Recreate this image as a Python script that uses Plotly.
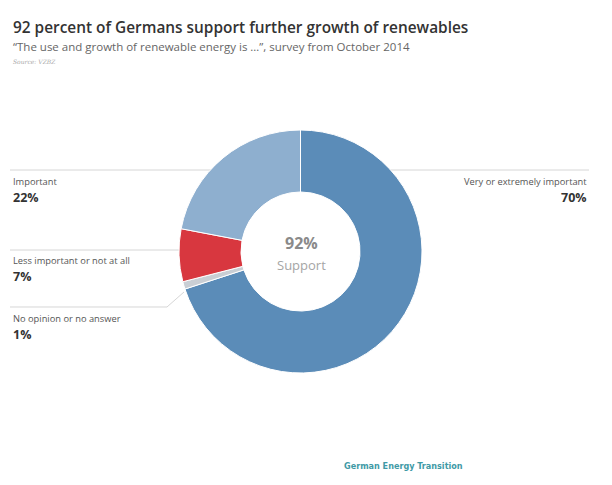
import plotly.graph_objects as go

# survey answers, clockwise from 12 o'clock
labels = ["Very or extremely important", "No opinion or no answer",
          "Less important or not at all", "Important"]
values = [70, 1, 7, 22]
colors = ["#5b8cb8", "#c9ced4", "#d8373f", "#8eafcf"]

# the page body adds an 8px margin, so the figure is a bit smaller and shifted
OX, OY = 8, 8
W, H = 612 - OX, 485 - OY


def px(x):
    return (x - OX) / W


def py(y):
    return 1 - (y - OY) / H


fig = go.Figure()
fig.add_trace(go.Pie(
    labels=labels, values=values, sort=False, direction="clockwise",
    rotation=0, hole=0.49, textinfo="none", showlegend=False,
    marker=dict(colors=colors, line=dict(color="white", width=1)),
    domain=dict(x=[px(178), px(423)], y=[py(373), py(130)]),
))

# thin guide lines behind the donut
line = dict(color="#d6d6d6", width=1)
fig.add_shape(type="line", x0=px(10), x1=px(300), y0=py(170), y1=py(170),
              xref="paper", yref="paper", line=line, layer="below")
fig.add_shape(type="line", x0=px(300), x1=px(589), y0=py(170), y1=py(170),
              xref="paper", yref="paper", line=line, layer="below")
fig.add_shape(type="line", x0=px(10), x1=px(200), y0=py(250), y1=py(250),
              xref="paper", yref="paper", line=line, layer="below")
fig.add_shape(type="path", path="M %f %f L %f %f L %f %f" % (
    px(10), py(307), px(167), py(307), px(184), py(292)),
    xref="paper", yref="paper", line=line, layer="below")

font = "Open Sans"
ann = []


def label(x, y, name, pct, anchor):
    ann.append(dict(x=px(x), y=py(y), text=name, showarrow=False,
                    xanchor=anchor, yanchor="middle",
                    font=dict(family=font, size=9.3, color="#555")))
    ann.append(dict(x=px(x), y=py(y + 16), text="<b>%d%%</b>" % pct,
                    showarrow=False, xanchor=anchor, yanchor="middle",
                    font=dict(family=font, size=12.5, color="#333")))


label(11, 181, labels[3], values[3], "left")
label(11, 260, labels[2], values[2], "left")
label(11, 318, labels[1], values[1], "left")
label(589, 181, labels[0], values[0], "right")

ann.append(dict(x=px(301), y=py(243), text="<b>92%</b>", showarrow=False,
                yanchor="middle",
                font=dict(family=font, size=16, color="#8a8a8a")))
ann.append(dict(x=px(301), y=py(265), text="Support", showarrow=False,
                yanchor="middle",
                font=dict(family=font, size=13, color="#a5a5a5")))

ann.append(dict(x=px(11), y=py(27), xanchor="left", yanchor="middle",
                showarrow=False,
                text="92 percent of Germans support further growth of renewables",
                font=dict(family=font, size=15.4, color="#333", weight=600)))
ann.append(dict(x=px(11), y=py(47), xanchor="left", yanchor="middle",
                showarrow=False,
                text="\u201cThe use and growth of renewable energy is \u2026\u201d, survey from October 2014",
                font=dict(family=font, size=11.5, color="#666")))
ann.append(dict(x=px(11), y=py(62), xanchor="left", yanchor="middle",
                showarrow=False, text="<i>Source: VZBZ</i>",
                font=dict(family="DejaVu Serif", size=6, color="#aaa")))
ann.append(dict(x=px(342), y=py(466), xanchor="left", yanchor="middle",
                showarrow=False, text="<b>German Energy Transition</b>",
                font=dict(family="DejaVu Sans Condensed", size=9,
                          color="#3f9aa6")))

fig.update_layout(width=W, height=H, margin=dict(l=0, r=0, t=0, b=0),
                  paper_bgcolor="white", plot_bgcolor="white",
                  annotations=ann)
fig.write_html("out.html")
